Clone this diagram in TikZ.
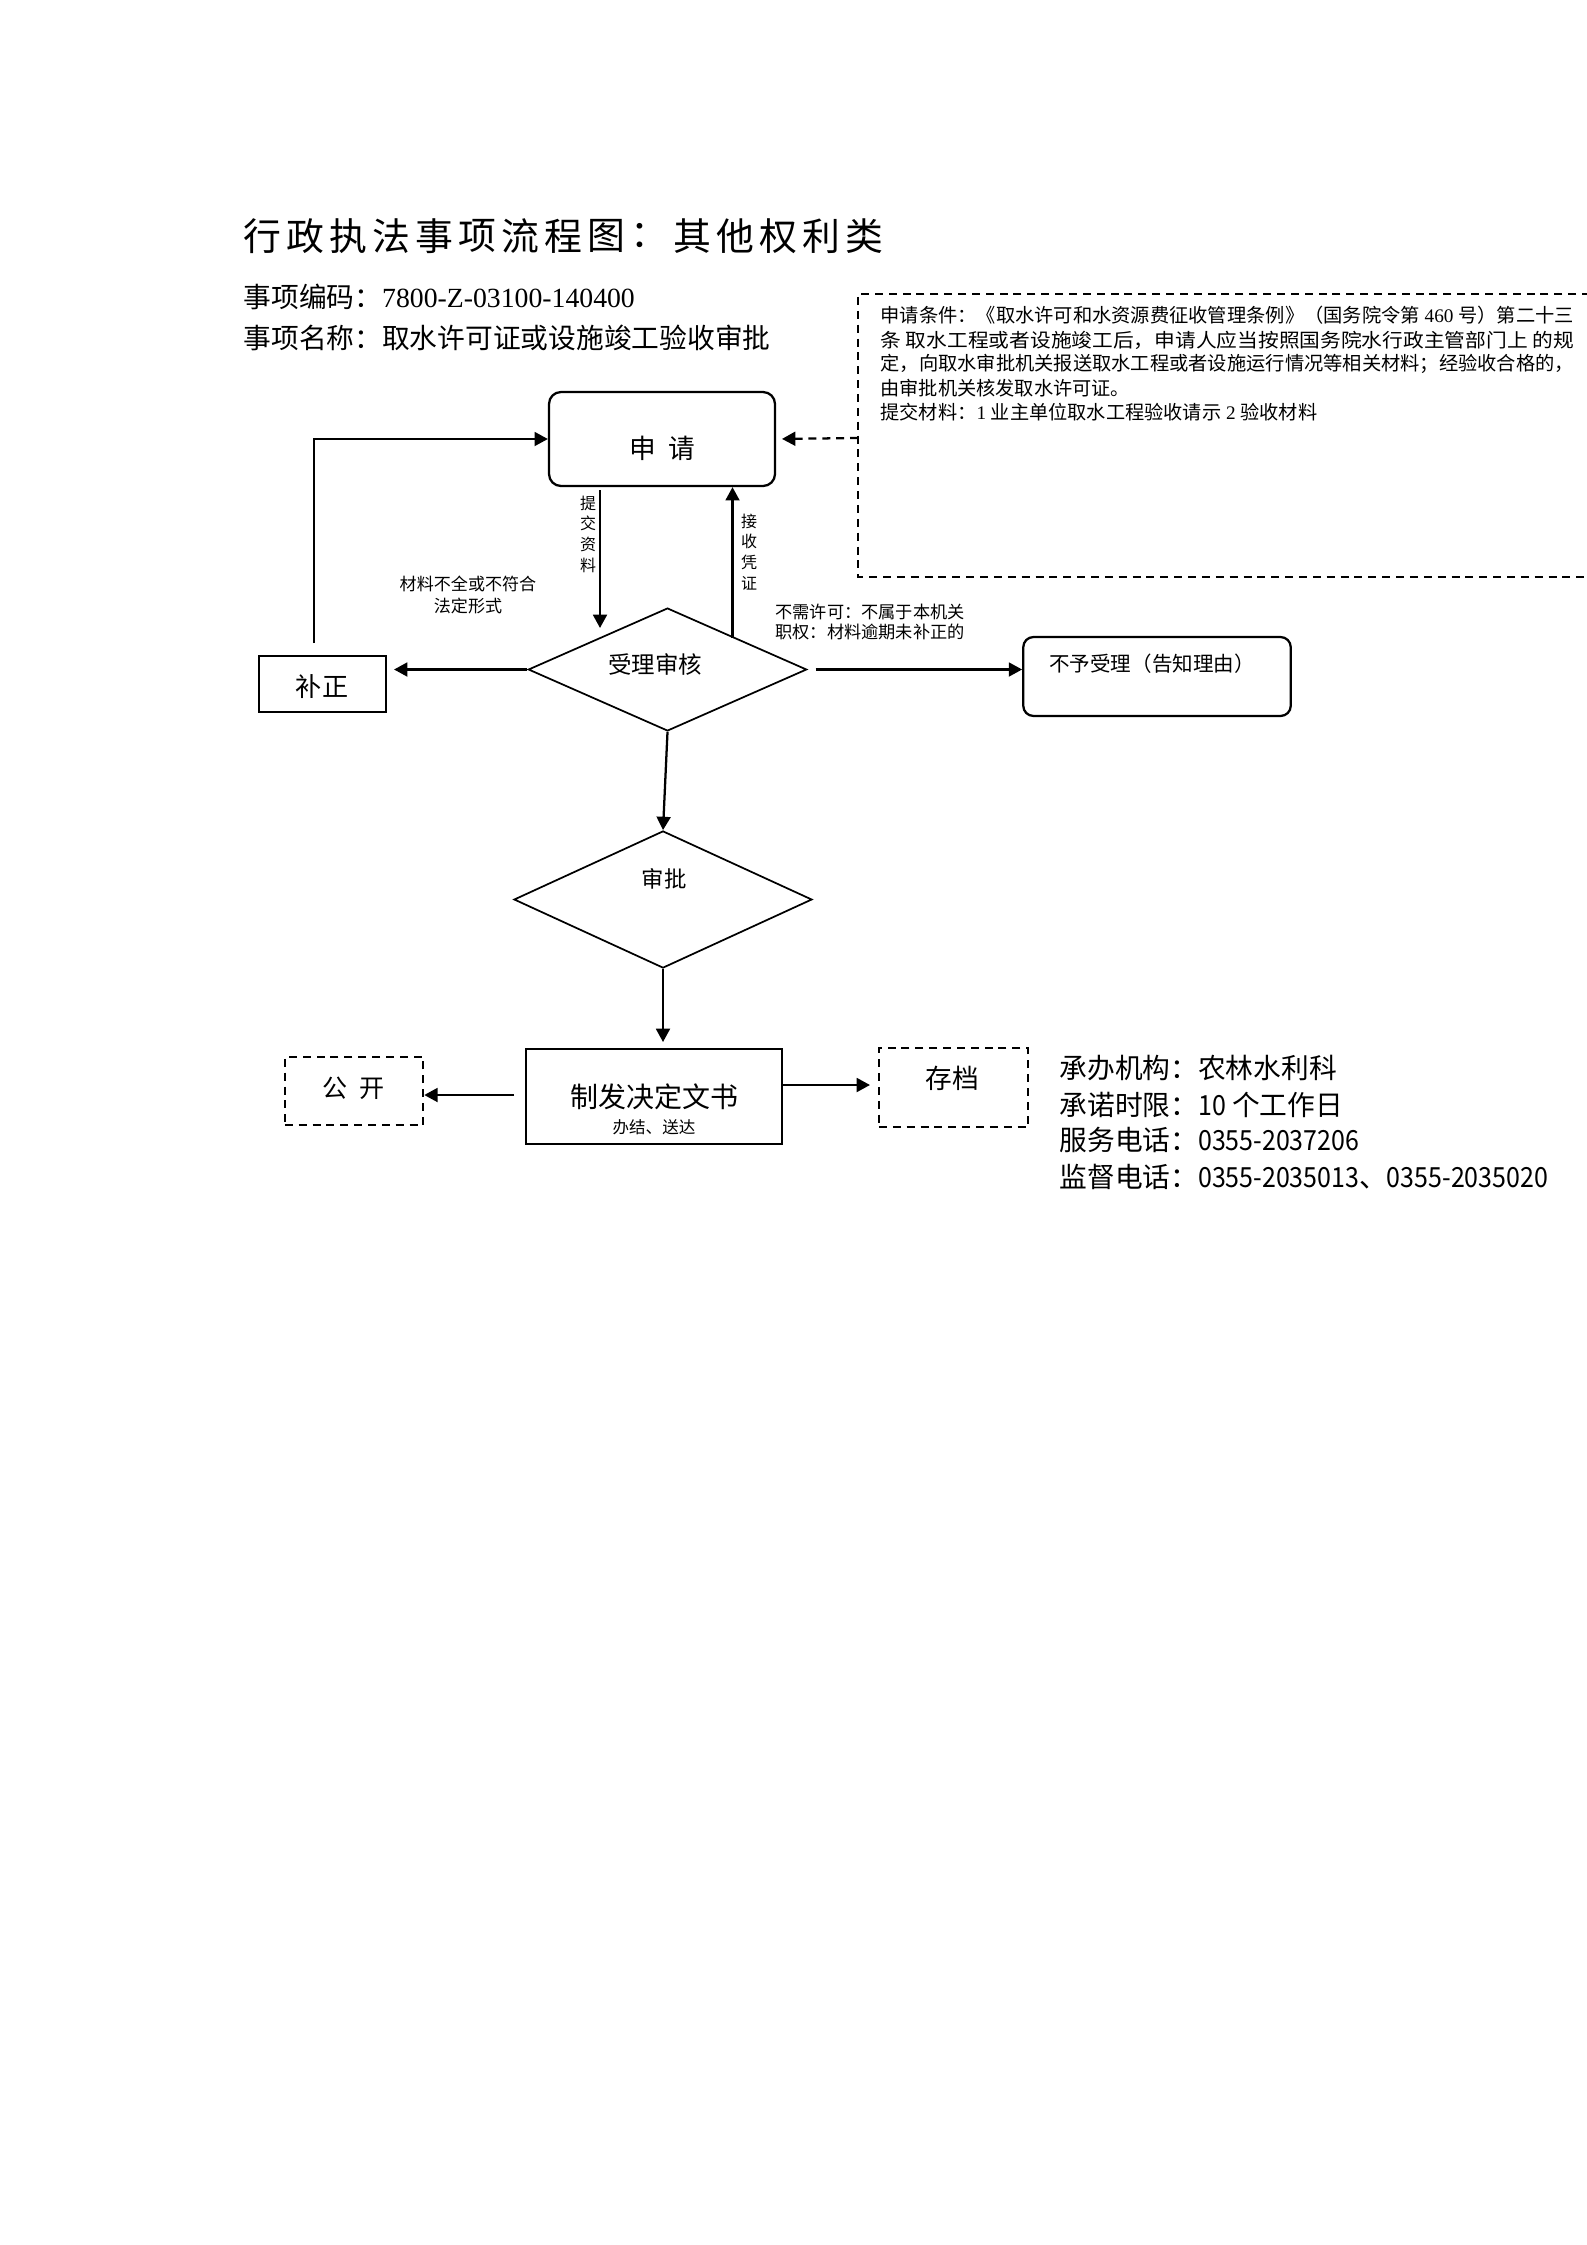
\documentclass[tikz,border=0pt]{standalone}
\usepackage{fontspec}
\usepackage{graphicx}
\setmainfont{Noto Sans CJK SC}
\newfontfamily\lat{Liberation Serif}
\usetikzlibrary{arrows.meta,shapes.geometric}
\newcommand{\dg}[1]{\scalebox{0.9}[1]{#1}}
\tikzset{
  boxline/.style={draw, line width=0.85pt, inner sep=0pt},
  rbox/.style={boxline, rounded corners=4.5pt},
  dbox/.style={draw, line width=0.8pt, dash pattern=on 3pt off 2.2pt, inner sep=0pt},
  dia/.style={draw, diamond, line width=0.65pt, inner sep=0pt},
  arr/.style={line width=0.85pt, -{Triangle[length=5pt,width=5.2pt]}},
  darr/.style={arr, dash pattern=on 3pt off 2.2pt},
  txt/.style={inner sep=0pt},
  lt/.style={txt, anchor=west},
}
\begin{document}
\begin{tikzpicture}[x=0.375pt,y=-0.375pt]
\fill[white] (0,0) rectangle (1587,2245);
\path[use as bounding box] (0,0) rectangle (1587,2245);

% title
\foreach \c [count=\i from 0] in {行,政,执,法,事,项,流,程,图,：,其,他,权,利,类}
  \node[txt, font=\fontsize{14.2pt}{14.2pt}\selectfont] (title\i) at (262+43*\i,236) {\c};

\node[lt, font=\fontsize{10.4pt}{12pt}\selectfont] (code) at (243,297) {事项编码：{\lat 7800-Z-03100-140400}};
\node[lt, font=\fontsize{10.4pt}{12pt}\selectfont] (iname) at (243,338) {事项名称：取水许可证或设施竣工验收审批};

% info dashed box
\coordinate (ib) at (858,438);
\draw[line width=0.8pt, dash pattern=on 3pt off 2.2pt] (1590,294) -- (858,294) -- (858,577) -- (1590,577);
\begin{scope}[every node/.style={lt, font=\fontsize{7.2pt}{8pt}\selectfont}]
\node (i1) at (880,315) {\resizebox{260pt}{\height}{申请条件：《取水许可和水资源费征收管理条例》（国务院令第{\lat\ 460 }号）第二十三}};
\node (i2) at (880,340) {\resizebox{260pt}{\height}{条\ 取水工程或者设施竣工后，申请人应当按照国务院水行政主管部门上\ 的规}};
\node (i3) at (880,364) {\resizebox{260pt}{\height}{定，向取水审批机关报送取水工程或者设施运行情况等相关材料；经验收合格的，}};
\node (i4) at (880,388) {由审批机关核发取水许可证。};
\node (i5) at (880,412) {提交材料：{\lat 1 }业主单位取水工程验收请示{\lat\ 2 }验收材料};
\end{scope}

% shapes
\node[rbox, minimum width=84.75pt, minimum height=35.25pt] (sq) at (662,439) {};
\node[txt, font=\fontsize{10pt}{10pt}\selectfont] (sqt) at (662,448) {申\hspace{4.5pt}请};

\node[boxline, minimum width=47.6pt, minimum height=21pt] (bz) at (322.5,684) {};
\node[txt, font=\fontsize{9.8pt}{10pt}\selectfont] (bzt) at (322,687) {补正};

\node[dia, minimum width=104.4pt, minimum height=46.1pt] (d1) at (667.5,669.5) {};
\node[txt, font=\fontsize{8.8pt}{9pt}\selectfont] (d1t) at (655,665) {受理审核};

\node[rbox, rounded corners=3.8pt, minimum width=100.3pt, minimum height=29.6pt] (bysl) at (1157,676.5) {};
\node[txt, font=\fontsize{7.7pt}{8pt}\selectfont] (byslt) at (1152,664) {不予受理（告知理由）};

\node[dia, minimum width=111.75pt, minimum height=51.4pt] (d2) at (663,899.5) {};
\node[txt, font=\fontsize{8.4pt}{9pt}\selectfont] (d2t) at (664,879) {审批};

\node[boxline, minimum width=96pt, minimum height=35.6pt] (zf) at (654,1096.5) {};
\node[txt, font=\fontsize{10.5pt}{11pt}\selectfont] (zft) at (654,1097) {制发决定文书};
\node[txt, font=\fontsize{6.2pt}{7pt}\selectfont] (zfs) at (654,1127) {办结、送达};

\node[dbox, minimum width=51.9pt, minimum height=25.5pt] (gk) at (354,1091) {};
\node[txt, font=\fontsize{9.4pt}{10pt}\selectfont] (gkt) at (354,1088) {公\hspace{4.5pt}开};

\node[dbox, minimum width=55.9pt, minimum height=29.6pt] (cd) at (953.5,1087.5) {};
\node[txt, font=\fontsize{10pt}{10pt}\selectfont] (cdt) at (952,1078) {存档};

% labels
\node[txt, align=center, font=\fontsize{6pt}{7.75pt}\selectfont] (l1) at (588,534) {提\\交\\资\\料};
\node[txt, align=center, font=\fontsize{6pt}{7.75pt}\selectfont] (l2) at (749,552) {接\\收\\凭\\证};
\node[txt, align=center, font=\fontsize{6.4pt}{8.25pt}\selectfont] (l3) at (468,595) {材料不全或不符合\\法定形式};
\node[lt, align=left, font=\fontsize{6.45pt}{7.5pt}\selectfont] (l4) at (775,622) {不需许可：不属于本机关\\职权：材料逾期未补正的};

% connectors
\coordinate (c1) at (314,643);
\draw[arr] (c1) |- (sq.west);
\draw[darr, shorten >=2.2pt] (ib) -- (sq.east);
\coordinate (c2) at (600,628);
\draw[arr] (sq.south -| c2) ++(0,3) -- (c2);
\coordinate (c3) at (732.5,638);
\draw[arr] (c3) -- (sq.south -| c3);
\draw[arr, shorten >=2.6pt] (d1.west) -- (d1.west -| bz.east);
\draw[arr] ([xshift=3pt]d1.east) -- (d1.east -| bysl.west);
\draw[arr] (d1.south) -- (d2.north);
\draw[arr, shorten >=2.2pt] (d2.south) -- (d2.south |- zf.north);
\coordinate (c4) at (514,1095);
\draw[arr] (c4) -- (c4 -| gk.east);
\coordinate (c5) at (870,1085);
\draw[arr] (zf.east |- c5) -- (c5);

% contact info
\begin{scope}[every node/.style={lt, font=\fontsize{10.4pt}{11pt}\selectfont}]
\node (k1) at (1059,1068) {承办机构：农林水利科};
\node (k2) at (1059,1105) {承诺时限：\dg{10} 个工作日};
\node (k3) at (1059,1140) {服务电话：\dg{0355-2037206}};
\node (k4) at (1059,1177) {监督电话：\dg{0355-2035013}、\dg{0355-2035020}};
\end{scope}
\end{tikzpicture}
\end{document}
